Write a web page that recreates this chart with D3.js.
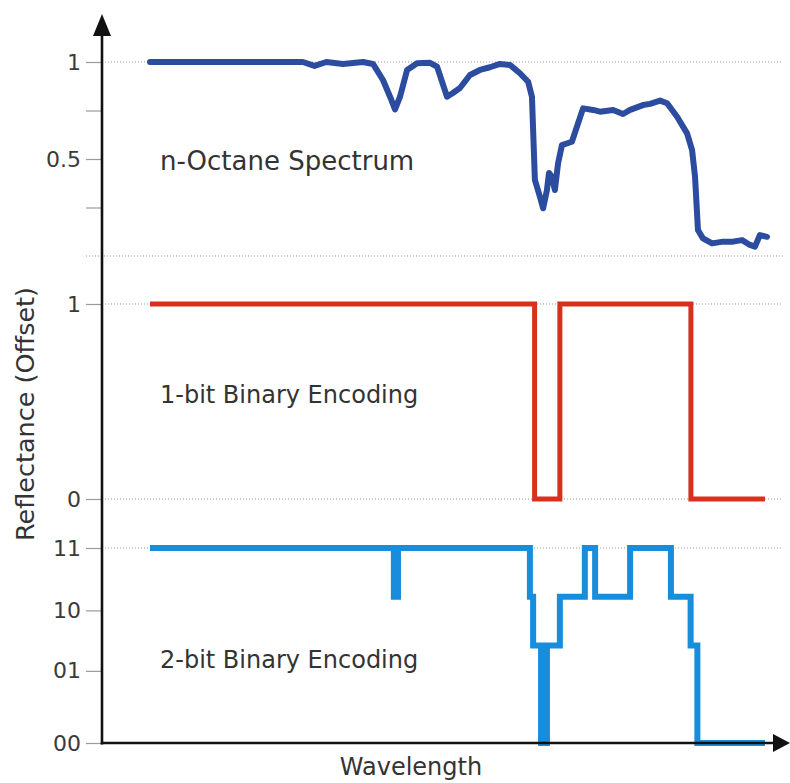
<!DOCTYPE html>
<html>
<head>
<meta charset="utf-8">
<script src="https://cdn.jsdelivr.net/npm/d3@7"></script>
<style>
  body { margin: 0; background: #fff; }
  svg { display: block; font-family: "DejaVu Sans", sans-serif; }
</style>
</head>
<body>
<div class="chart"></div>
<script>
// wavelength (nm) and reflectance
let spectrum = [
  [400,1.0],[920,1.0],[960,0.98],[1000,1.0],[1057,0.99],[1125,1.0],[1159,0.99],
  [1193,0.907],[1217,0.821],[1234,0.756],[1251,0.821],[1275,0.959],[1309,0.993],
  [1353,0.996],[1377,0.976],[1411,0.821],[1431,0.84],[1455,0.866],[1489,0.933],
  [1523,0.959],[1557,0.973],[1591,0.99],[1625,0.985],[1659,0.942],[1687,0.898],
  [1700,0.821],[1704,0.649],[1710,0.392],[1727,0.306],[1738,0.246],[1751,0.34],
  [1758,0.428],[1768,0.409],[1778,0.34],[1789,0.479],[1802,0.572],[1836,0.589],
  [1853,0.666],[1874,0.761],[1908,0.753],[1932,0.744],[1976,0.753],[2010,0.732],
  [2034,0.753],[2078,0.778],[2102,0.784],[2136,0.801],[2160,0.787],[2194,0.718],
  [2228,0.632],[2245,0.546],[2255,0.409],[2265,0.134],[2282,0.091],[2313,0.065],
  [2350,0.074],[2384,0.074],[2415,0.082],[2442,0.057],[2459,0.048],[2476,0.108],
  [2500,0.099]
];

// 1-bit code: [start wavelength, bit]
let oneBit = [[400,1],[1709,0],[1795,1],[2241,0],[2493,0]];

// 2-bit code: [start wavelength, level]
let twoBit = [
  [400,1],[1230,0.75],[1244,1],[1693,0.75],[1704,0.5],[1731,0],[1751,0.5],
  [1795,0.75],[1880,1],[1915,0.75],[2034,1],[2173,0.75],[2240,0.5],[2263,0],[2493,0]
];

let specTicks = [1, 0.75, 0.5, 0.25];
let specLabels = {1: "1", 0.5: "0.5"};
let oneTicks = [1, 0];
let twoTicks = [1, 0.68, 0.37, 0];
let twoLabels = ["11", "10", "01", "00"];

let width = 790,
    height = 783;

let svg = d3.select(".chart").append("svg")
    .attr("width", width)
    .attr("height", height);

let x = d3.scaleLinear().domain([400, 2500]).range([150, 767]);
let ySpec = d3.scaleLinear().domain([0, 1]).range([256, 62]);
let yOne = d3.scaleLinear().domain([0, 1]).range([499, 304]);
let yTwo = d3.scaleLinear().domain([0, 1]).range([743, 548]);

let axisX = 102;

// dotted guides
let guides = [
  {y: ySpec(1), x0: axisX}, {y: ySpec(0), x0: 86},
  {y: yOne(1), x0: axisX}, {y: yOne(0), x0: axisX},
  {y: yTwo(1), x0: axisX}
];
svg.append("g").selectAll("line")
    .data(guides)
    .join("line")
    .attr("x1", d => d.x0).attr("x2", 783)
    .attr("y1", d => d.y).attr("y2", d => d.y)
    .attr("stroke", "#9a9a9a")
    .attr("stroke-width", 1)
    .attr("stroke-dasharray", "1,2");

// left ticks
function ticks(scale, values, fmt) {
  let g = svg.append("g")
      .attr("transform", `translate(${axisX},0)`)
      .call(d3.axisLeft(scale).tickValues(values).tickFormat(fmt).tickSize(16).tickPadding(5));
  g.select(".domain").remove();
  g.selectAll(".tick line").attr("stroke", "#9a9a9a").attr("stroke-width", 1.2);
  g.selectAll(".tick text")
      .attr("fill", "#3a3a3a")
      .style("font-size", "22px")
      .style("font-family", "'DejaVu Sans', sans-serif");
}
ticks(ySpec, specTicks, d => specLabels[d] || "");
ticks(yOne, oneTicks, d => String(d));
ticks(yTwo, twoTicks, (d, i) => twoLabels[i]);

// series
let specLine = d3.line().x(d => x(d[0])).y(d => ySpec(d[1])).curve(d3.curveLinear);
svg.append("path")
    .datum(spectrum)
    .attr("d", specLine)
    .attr("fill", "none")
    .attr("stroke", "#2b4c9f")
    .attr("stroke-width", 6)
    .attr("stroke-linejoin", "round")
    .attr("stroke-linecap", "round");

svg.append("path")
    .datum(oneBit)
    .attr("d", d3.line().x(d => x(d[0])).y(d => yOne(d[1])).curve(d3.curveStepAfter))
    .attr("fill", "none")
    .attr("stroke", "#d9301e")
    .attr("stroke-width", 5);

svg.append("path")
    .datum(twoBit)
    .attr("d", d3.line().x(d => x(d[0])).y(d => yTwo(d[1])).curve(d3.curveStepAfter))
    .attr("fill", "none")
    .attr("stroke", "#178ddc")
    .attr("stroke-width", 6);

// axes with arrows
svg.append("line")
    .attr("x1", axisX).attr("x2", axisX)
    .attr("y1", 30).attr("y2", 744.5)
    .attr("stroke", "#111").attr("stroke-width", 2.6);
svg.append("line")
    .attr("x1", axisX - 1.3).attr("x2", 778)
    .attr("y1", 743).attr("y2", 743)
    .attr("stroke", "#111").attr("stroke-width", 2.6);
svg.append("path")
    .attr("d", `M${axisX},14L${axisX + 9},36L${axisX - 9},36Z`)
    .attr("fill", "#111");
svg.append("path")
    .attr("d", `M790,743L773,734L773,752Z`)
    .attr("fill", "#111");

// labels
let labels = [
  {t: "n-Octane Spectrum", x: 160, y: 170, s: 26},
  {t: "1-bit Binary Encoding", x: 160, y: 403, s: 24},
  {t: "2-bit Binary Encoding", x: 160, y: 668, s: 24}
];
svg.append("g").selectAll("text")
    .data(labels)
    .join("text")
    .attr("x", d => d.x).attr("y", d => d.y)
    .attr("fill", "#333")
    .style("font-size", d => d.s + "px")
    .text(d => d.t);

svg.append("text")
    .attr("x", 411).attr("y", 775)
    .attr("text-anchor", "middle")
    .attr("fill", "#333")
    .style("font-size", "24px")
    .text("Wavelength");

svg.append("text")
    .attr("transform", "translate(34,414) rotate(-90)")
    .attr("text-anchor", "middle")
    .attr("fill", "#333")
    .style("font-size", "25.5px")
    .text("Reflectance (Offset)");
</script>
</body>
</html>
